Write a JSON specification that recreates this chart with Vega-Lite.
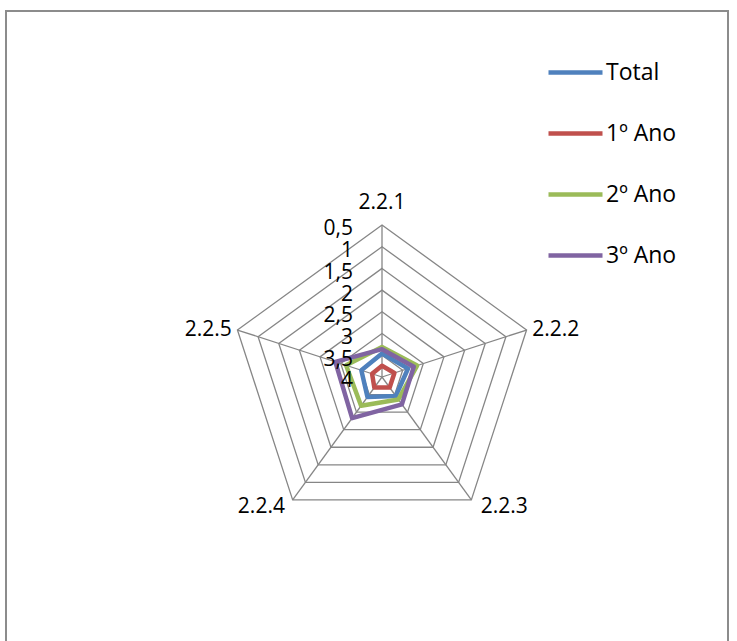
{
  "$schema": "https://vega.github.io/schema/vega-lite/v6.json",
  "width": 722,
  "height": 640,
  "autosize": {"type": "none"},
  "padding": {"left": 6, "top": 11, "right": 9, "bottom": 0},
  "background": "white",
  "config": {"view": {"stroke": "#8c8c8c", "strokeWidth": 2}, "font": "Open Sans"},
  "datasets": {
    "rings": [
      {"level": 0.5, "k": 0}, {"level": 0.5, "k": 1}, {"level": 0.5, "k": 2}, {"level": 0.5, "k": 3}, {"level": 0.5, "k": 4},
      {"level": 1, "k": 0}, {"level": 1, "k": 1}, {"level": 1, "k": 2}, {"level": 1, "k": 3}, {"level": 1, "k": 4},
      {"level": 1.5, "k": 0}, {"level": 1.5, "k": 1}, {"level": 1.5, "k": 2}, {"level": 1.5, "k": 3}, {"level": 1.5, "k": 4},
      {"level": 2, "k": 0}, {"level": 2, "k": 1}, {"level": 2, "k": 2}, {"level": 2, "k": 3}, {"level": 2, "k": 4},
      {"level": 2.5, "k": 0}, {"level": 2.5, "k": 1}, {"level": 2.5, "k": 2}, {"level": 2.5, "k": 3}, {"level": 2.5, "k": 4},
      {"level": 3, "k": 0}, {"level": 3, "k": 1}, {"level": 3, "k": 2}, {"level": 3, "k": 3}, {"level": 3, "k": 4},
      {"level": 3.5, "k": 0}, {"level": 3.5, "k": 1}, {"level": 3.5, "k": 2}, {"level": 3.5, "k": 3}, {"level": 3.5, "k": 4}
    ],
    "axes": [
      {"axis": "2.2.1", "k": 0},
      {"axis": "2.2.2", "k": 1},
      {"axis": "2.2.3", "k": 2},
      {"axis": "2.2.4", "k": 3},
      {"axis": "2.2.5", "k": 4}
    ],
    "ticks": [
      {"level": 0.5, "label": "0,5"},
      {"level": 1, "label": "1"},
      {"level": 1.5, "label": "1,5"},
      {"level": 2, "label": "2"},
      {"level": 2.5, "label": "2,5"},
      {"level": 3, "label": "3"},
      {"level": 3.5, "label": "3,5"},
      {"level": 4, "label": "4"}
    ],
    "series": [
      {"series": "Total", "k": 0, "v": 3.46},
      {"series": "Total", "k": 1, "v": 3.37},
      {"series": "Total", "k": 2, "v": 3.46},
      {"series": "Total", "k": 3, "v": 3.43},
      {"series": "Total", "k": 4, "v": 3.5},
      {"series": "1º Ano", "k": 0, "v": 3.74},
      {"series": "1º Ano", "k": 1, "v": 3.7},
      {"series": "1º Ano", "k": 2, "v": 3.7},
      {"series": "1º Ano", "k": 3, "v": 3.7},
      {"series": "1º Ano", "k": 4, "v": 3.76},
      {"series": "2º Ano", "k": 0, "v": 3.31},
      {"series": "2º Ano", "k": 1, "v": 3.15},
      {"series": "2º Ano", "k": 2, "v": 3.36},
      {"series": "2º Ano", "k": 3, "v": 3.18},
      {"series": "2º Ano", "k": 4, "v": 3.13},
      {"series": "3º Ano", "k": 0, "v": 3.36},
      {"series": "3º Ano", "k": 1, "v": 3.23},
      {"series": "3º Ano", "k": 2, "v": 3.22},
      {"series": "3º Ano", "k": 3, "v": 2.83},
      {"series": "3º Ano", "k": 4, "v": 2.87}
    ]
  },
  "resolve": {"scale": {"x": "shared", "y": "shared"}},
  "layer": [
    {
      "data": {"name": "rings"},
      "transform": [
        {"calculate": "datum.k*2*PI/5", "as": "theta"},
        {"calculate": "(4-datum.level)*sin(datum.theta)", "as": "px"},
        {"calculate": "(4-datum.level)*cos(datum.theta)", "as": "py"}
      ],
      "mark": {"type": "line", "interpolate": "linear-closed", "stroke": "#868686", "strokeWidth": 1.3},
      "encoding": {
        "x": {"field": "px", "type": "quantitative", "scale": {"domain": [-8.658, 7.967], "nice": false, "zero": false}, "axis": null},
        "y": {"field": "py", "type": "quantitative", "scale": {"domain": [-6.309, 8.427], "nice": false, "zero": false}, "axis": null},
        "detail": {"field": "level", "type": "nominal"},
        "order": {"field": "k", "type": "quantitative"}
      }
    },
    {
      "data": {"name": "axes"},
      "transform": [
        {"calculate": "datum.k*2*PI/5", "as": "theta"},
        {"calculate": "0", "as": "cx"},
        {"calculate": "0", "as": "cy"},
        {"calculate": "3.5*sin(datum.theta)", "as": "px"},
        {"calculate": "3.5*cos(datum.theta)", "as": "py"}
      ],
      "mark": {"type": "rule", "stroke": "#868686", "strokeWidth": 1.3},
      "encoding": {
        "x": {"field": "cx", "type": "quantitative"},
        "y": {"field": "cy", "type": "quantitative"},
        "x2": {"field": "px"},
        "y2": {"field": "py"}
      }
    },
    {
      "data": {"name": "series"},
      "transform": [
        {"calculate": "datum.k*2*PI/5", "as": "theta"},
        {"calculate": "(4-datum.v)*sin(datum.theta)", "as": "px"},
        {"calculate": "(4-datum.v)*cos(datum.theta)", "as": "py"}
      ],
      "mark": {"type": "line", "interpolate": "linear-closed", "strokeWidth": 4.5, "strokeJoin": "round"},
      "encoding": {
        "x": {"field": "px", "type": "quantitative"},
        "y": {"field": "py", "type": "quantitative"},
        "order": {"field": "k", "type": "quantitative"},
        "color": {
          "field": "series",
          "type": "nominal",
          "sort": ["Total", "1º Ano", "2º Ano", "3º Ano"],
          "scale": {"domain": ["Total", "1º Ano", "2º Ano", "3º Ano"], "range": ["#4F81BD", "#C0504D", "#9BBB59", "#8064A2"]},
          "legend": {
            "orient": "none",
            "legendX": 540,
            "legendY": 32,
            "title": null,
            "symbolType": "stroke",
            "symbolSize": 2916,
            "symbolStrokeWidth": 4.5,
            "labelFontSize": 23,
            "labelFont": "Open Sans",
            "labelColor": "black",
            "labelOffset": 1,
            "rowPadding": 19,
            "padding": 0
          }
        }
      }
    },
    {
      "data": {"name": "axes"},
      "transform": [
        {"calculate": "datum.k*2*PI/5", "as": "theta"},
        {"calculate": "3.5*sin(datum.theta) + (datum.k==1 ? 0.67 : datum.k==4 ? -0.67 : datum.k==2 ? 0.76 : datum.k==3 ? -0.72 : 0)", "as": "lx"},
        {"calculate": "3.5*cos(datum.theta) + (datum.k==0 ? 0.5 : datum.k==2 || datum.k==3 ? -0.17 : 0)", "as": "ly"}
      ],
      "mark": {"type": "text", "fontSize": 21, "align": "center", "baseline": "middle", "color": "black"},
      "encoding": {
        "x": {"field": "lx", "type": "quantitative"},
        "y": {"field": "ly", "type": "quantitative"},
        "text": {"field": "axis"}
      }
    },
    {
      "data": {"name": "ticks"},
      "transform": [
        {"calculate": "0", "as": "tx"},
        {"calculate": "4-datum.level", "as": "ty"}
      ],
      "mark": {"type": "text", "fontSize": 21, "align": "right", "baseline": "middle", "dx": -29, "dy": 4.5, "color": "black"},
      "encoding": {
        "x": {"field": "tx", "type": "quantitative"},
        "y": {"field": "ty", "type": "quantitative"},
        "text": {"field": "label"}
      }
    }
  ]
}
